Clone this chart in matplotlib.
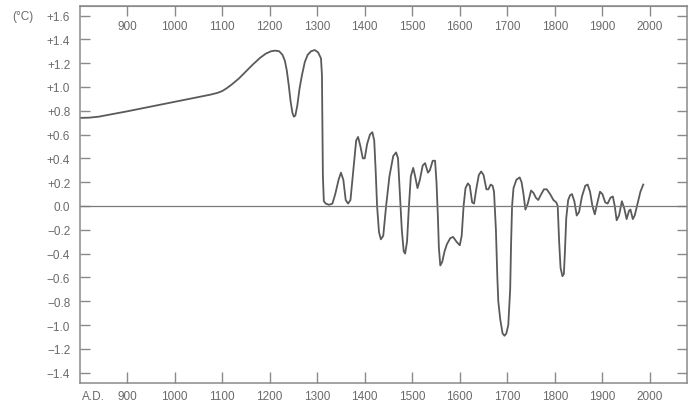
import matplotlib
matplotlib.use("Agg")
import matplotlib.pyplot as plt
import matplotlib.transforms as mtransforms

# ---- data ----
years = [800, 820, 840, 860, 880, 900, 925, 950, 975, 1000, 1025, 1050, 1075, 1090,
         1100, 1110, 1120, 1135, 1150, 1165, 1180, 1192, 1203, 1212, 1220, 1227, 1232,
         1236, 1240, 1244, 1248, 1251, 1254, 1258, 1263, 1268, 1274, 1280, 1287, 1295,
         1302, 1308, 1310, 1311, 1312, 1314, 1318, 1325, 1332, 1338, 1345, 1350, 1355,
         1360, 1365, 1370, 1376, 1382, 1386, 1391, 1396, 1400, 1405, 1411, 1416, 1420,
         1423, 1426, 1430, 1434, 1439, 1445, 1452, 1460, 1466, 1470, 1474, 1478, 1482,
         1485, 1489, 1493, 1497, 1502, 1506, 1511, 1516, 1522, 1527, 1533, 1537, 1543,
         1548, 1551, 1554, 1556, 1559, 1563, 1568, 1573, 1580, 1586, 1593, 1600, 1604,
         1608, 1612, 1617, 1621, 1626, 1630, 1635, 1640, 1645, 1650, 1656, 1660, 1665,
         1669, 1672, 1676, 1679, 1681, 1685, 1690, 1694, 1698, 1702, 1706, 1708, 1710,
         1713, 1719, 1726, 1730, 1734, 1738, 1743, 1750, 1755, 1760, 1765, 1770, 1777,
         1783, 1790, 1797, 1803, 1806, 1809, 1812, 1816, 1819, 1821, 1824, 1828, 1832,
         1836, 1841, 1846, 1851, 1857, 1864, 1869, 1874, 1879, 1884, 1889, 1895, 1900,
         1906, 1911, 1917, 1922, 1926, 1930, 1935, 1941, 1946, 1951, 1956, 1959, 1964,
         1968, 1974, 1980, 1986]
temps = [0.74, 0.742, 0.75, 0.765, 0.78, 0.795, 0.815, 0.835, 0.855, 0.875, 0.895, 0.915,
         0.935, 0.95, 0.965, 0.99, 1.02, 1.07, 1.13, 1.19, 1.245, 1.28, 1.30, 1.305, 1.30,
         1.27, 1.22, 1.14, 1.02, 0.88, 0.78, 0.75, 0.76, 0.84, 0.99, 1.10, 1.21, 1.27,
         1.30, 1.31, 1.29, 1.24, 1.10, 0.70, 0.25, 0.04, 0.02, 0.01, 0.02, 0.10, 0.22,
         0.28, 0.22, 0.05, 0.02, 0.05, 0.30, 0.55, 0.58, 0.50, 0.40, 0.40, 0.52, 0.60,
         0.62, 0.55, 0.30, 0.00, -0.22, -0.28, -0.25, 0.00, 0.25, 0.42, 0.45, 0.40, 0.10,
         -0.20, -0.38, -0.40, -0.30, 0.00, 0.25, 0.32, 0.25, 0.15, 0.22, 0.34, 0.36, 0.28,
         0.30, 0.38, 0.38, 0.20, -0.10, -0.35, -0.50, -0.47, -0.38, -0.32, -0.27, -0.26,
         -0.30, -0.33, -0.25, 0.00, 0.15, 0.19, 0.17, 0.03, 0.02, 0.15, 0.26, 0.29, 0.26,
         0.14, 0.14, 0.18, 0.17, 0.12, -0.20, -0.60, -0.80, -0.95, -1.07, -1.09, -1.07,
         -1.00, -0.70, -0.30, 0.00, 0.15, 0.22, 0.24, 0.20, 0.10, -0.03, 0.02, 0.13, 0.11,
         0.07, 0.05, 0.09, 0.14, 0.14, 0.10, 0.05, 0.03, 0.00, -0.30, -0.52, -0.59, -0.57,
         -0.40, -0.10, 0.05, 0.09, 0.10, 0.04, -0.08, -0.05, 0.08, 0.17, 0.18, 0.12, 0.00,
         -0.07, 0.02, 0.12, 0.10, 0.03, 0.02, 0.07, 0.08, 0.00, -0.12, -0.08, 0.04, -0.02,
         -0.11, -0.04, -0.03, -0.11, -0.08, 0.02, 0.12, 0.18]

x_ticks = [900, 1000, 1100, 1200, 1300, 1400, 1500, 1600, 1700, 1800, 1900, 2000]
x_labels = ["900", "1000", "1100", "1200", "1300", "1400", "1500", "1600", "1700",
            "1800", "1900", "2000"]
y_ticks = [1.6, 1.4, 1.2, 1.0, 0.8, 0.6, 0.4, 0.2, 0.0, -0.2, -0.4, -0.6, -0.8, -1.0,
           -1.2, -1.4]
y_labels = ["+1.6", "+1.4", "+1.2", "+1.0", "+0.8", "+0.6", "+0.4", "+0.2", "0.0",
            "\u22120.2", "\u22120.4", "\u22120.6", "\u22120.8", "\u22121.0", "\u22121.2",
            "\u22121.4"]
unit_label = "(°C)"
era_label = "A.D."

# ---- style ----
plt.rcParams['font.family'] = ['Liberation Sans', 'DejaVu Sans']
txt = '#6a6a6a'
axc = '#8a8a8a'

fig = plt.figure(figsize=(6.89, 4.06), dpi=100)
ax = fig.add_axes([80 / 689, 1 - 384 / 406, 607 / 689, 377 / 406])

ax.plot(years, temps, color='#5a5a5a', lw=1.3, solid_joinstyle='round')
ax.axhline(0, color='#7a7a7a', lw=0.9)

ax.set_xlim(801, 2078)
ax.set_ylim(-1.487, 1.68)

for s in ax.spines.values():
    s.set_color(axc)
    s.set_linewidth(1.1)

ax.set_xticks(x_ticks)
ax.set_xticklabels(x_labels)
ax.set_yticks(y_ticks)
ax.set_yticklabels(y_labels)
ax.tick_params(axis='x', direction='in', length=8, width=1, color=axc,
               labelsize=8.5, labelcolor=txt, pad=5)
ax.tick_params(axis='y', direction='in', length=7, width=1, color=axc,
               labelsize=8.5, labelcolor=txt, pad=7, right=True)

sec = ax.secondary_xaxis('top')
sec.set_xticks(x_ticks)
sec.set_xticklabels(x_labels)
sec.tick_params(direction='in', length=7, width=1, color=axc,
                labelsize=8.5, labelcolor=txt, pad=-19)
sec.spines['top'].set_color(axc)

trans_y = mtransforms.blended_transform_factory(fig.transFigure, ax.transData)
fig.text(12 / 689, 1.6, unit_label, transform=trans_y, fontsize=8.5, color=txt,
         va='center', ha='left')
trans_x = mtransforms.blended_transform_factory(fig.transFigure, fig.transFigure)
fig.text(82 / 689, 1 - 397 / 406, era_label, transform=trans_x, fontsize=8.5,
         color=txt, va='center', ha='left')

fig.savefig('out.png', dpi=100, facecolor='white')
